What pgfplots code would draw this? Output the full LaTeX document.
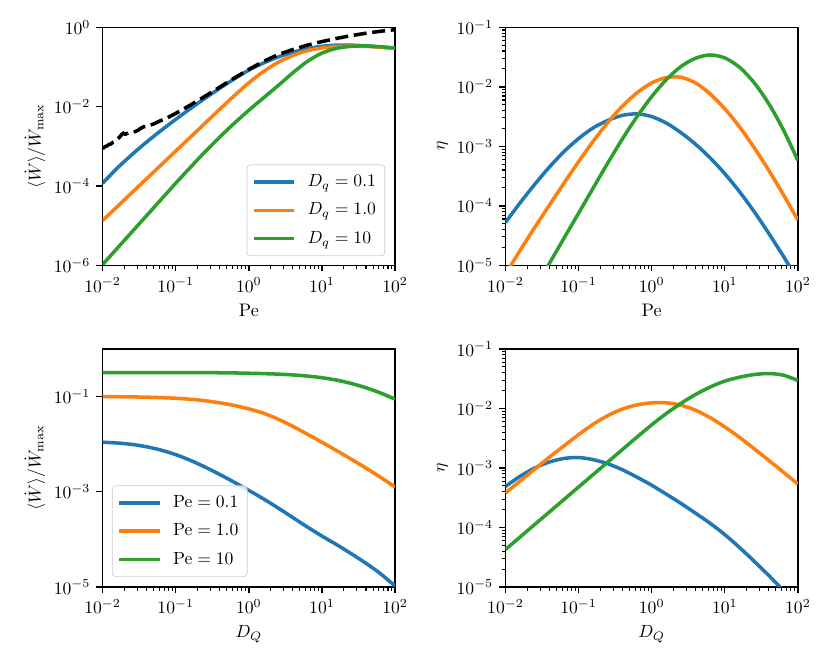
\documentclass[border=0pt]{standalone}
\usepackage{pgfplots}
\usepackage{pgfplotstable}
\pgfplotsset{compat=1.18}
\definecolor{tabblue}{HTML}{1F77B4}
\definecolor{taborange}{HTML}{FF7F0E}
\definecolor{tabgreen}{HTML}{2CA02C}

% top-left: <W>/Wmax vs Pe for Dq = 0.1, 1.0, 10
\pgfplotstableread{
x b o g
0.01 1.175e-4 1.349e-5 1.047e-6
0.01585 2.818e-4 3.020e-5 2.692e-6
0.02512 6.166e-4 6.761e-5 6.918e-6
0.03981 1.274e-3 1.514e-4 1.778e-5
0.0631 2.512e-3 3.388e-4 4.571e-5
0.1 4.786e-3 7.586e-4 1.175e-4
0.1585 8.913e-3 1.698e-3 2.951e-4
0.2512 1.622e-2 3.802e-3 7.244e-4
0.3981 2.884e-2 8.511e-3 1.698e-3
0.631 5.012e-2 1.884e-2 3.802e-3
1 8.318e-2 3.981e-2 8.128e-3
1.585 0.1259 7.674e-2 1.660e-2
2.512 0.1778 0.1303 3.388e-2
3.981 0.2344 0.1950 7.079e-2
6.31 0.2884 0.2570 0.1380
10 0.3311 0.3020 0.2239
15.85 0.3548 0.3273 0.2951
25.12 0.3548 0.3350 0.3311
39.81 0.3388 0.3311 0.3388
63.1 0.3162 0.3162 0.3236
100 0.2951 0.2951 0.3020
}\tabTL

% top-right: eta vs Pe
\pgfplotstableread{
x b o g
0.01 5.248e-5 7.079e-6 5.888e-7
0.01585 1.122e-4 1.778e-5 1.549e-6
0.02512 2.291e-4 4.315e-5 4.074e-6
0.03981 4.467e-4 1.023e-4 1.072e-5
0.0631 8.128e-4 2.399e-4 2.851e-5
0.1 1.349e-3 5.495e-4 7.499e-5
0.1585 2.042e-3 1.216e-3 1.995e-4
0.2512 2.723e-3 2.512e-3 5.248e-4
0.3981 3.311e-3 4.732e-3 1.334e-3
0.631 3.508e-3 7.943e-3 3.162e-3
1 3.162e-3 1.161e-2 6.839e-3
1.585 2.455e-3 1.429e-2 1.318e-2
2.512 1.698e-3 1.445e-2 2.188e-2
3.981 1.084e-3 1.161e-2 3.020e-2
6.31 6.383e-4 7.586e-3 3.428e-2
10 3.467e-4 4.266e-3 3.055e-2
15.85 1.738e-4 2.138e-3 2.138e-2
25.12 8.035e-5 9.550e-4 1.175e-2
39.81 3.467e-5 3.981e-4 5.248e-3
63.1 1.429e-5 1.549e-4 1.905e-3
100 5.689e-6 5.754e-5 5.754e-4
}\tabTR

% bottom-left: <W>/Wmax vs D_Q for Pe = 0.1, 1.0, 10
\pgfplotstableread{
x b o g
0.01 1.096e-2 0.1 0.3192
0.01585 1.059e-2 0.09931 0.3192
0.02512 9.886e-3 0.09840 0.3192
0.03981 8.810e-3 0.09705 0.3192
0.0631 7.499e-3 0.09506 0.3192
0.1 6.026e-3 0.09204 0.3192
0.1585 4.571e-3 0.08770 0.3192
0.2512 3.311e-3 0.08166 0.3184
0.3981 2.317e-3 0.07396 0.3162
0.631 1.585e-3 0.06501 0.3133
1 1.072e-3 0.05508 0.3090
1.585 7.079e-4 0.04467 0.3034
2.512 4.571e-4 0.03350 0.2958
3.981 2.884e-4 0.02371 0.2851
6.31 1.820e-4 0.01622 0.2698
10 1.175e-4 0.01096 0.2489
15.85 7.762e-5 7.328e-3 0.2218
25.12 5.012e-5 4.842e-3 0.1888
39.81 3.162e-5 3.162e-3 0.1535
63.1 1.905e-5 2.018e-3 0.1191
100 1.047e-5 1.259e-3 0.08831
}\tabBL

% bottom-right: eta vs D_Q
\pgfplotstableread{
x b o g
0.01 4.898e-4 3.802e-4 4.266e-5
0.01585 7.244e-4 6.026e-4 6.918e-5
0.02512 1.0e-3 9.550e-4 1.122e-4
0.03981 1.259e-3 1.514e-3 1.820e-4
0.0631 1.445e-3 2.344e-3 2.951e-4
0.1 1.496e-3 3.631e-3 4.786e-4
0.1585 1.380e-3 5.433e-3 7.762e-4
0.2512 1.175e-3 7.586e-3 1.259e-3
0.3981 9.333e-4 9.772e-3 2.042e-3
0.631 6.998e-4 1.148e-2 3.311e-3
1 5.129e-4 1.245e-2 5.309e-3
1.585 3.631e-4 1.245e-2 8.222e-3
2.512 2.541e-4 1.135e-2 1.216e-2
3.981 1.738e-4 9.333e-3 1.718e-2
6.31 1.175e-4 6.998e-3 2.291e-2
10 7.586e-5 4.898e-3 2.884e-2
15.85 4.624e-5 3.273e-3 3.350e-2
25.12 2.723e-5 2.113e-3 3.715e-2
39.81 1.567e-5 1.349e-3 3.864e-2
63.1 8.810e-6 8.511e-4 3.631e-2
100 4.898e-6 5.370e-4 2.951e-2
}\tabBR

\pgfplotsset{
  every axis/.append style={
    scale only axis, width=166.1pt, height=135.2pt,
    xmode=log, ymode=log, xmin=0.01, xmax=100,
    font=\fontsize{10.3}{12}\selectfont,
    tick align=outside, tick pos=left,
    major tick length=3.5pt, minor tick length=2pt,
    every tick/.style={black, line width=0.8pt},
    minor tick style={line width=0.6pt},
    axis line style={line width=0.8pt},
    ylabel shift=-2pt,
    xtick={0.01,0.1,1,10,100},
    minor xtick={0.02,0.03,0.04,0.05,0.06,0.07,0.08,0.09,
                 0.2,0.3,0.4,0.5,0.6,0.7,0.8,0.9,
                 2,3,4,5,6,7,8,9,20,30,40,50,60,70,80,90},
    legend cell align=left,
    legend style={draw=black!20, rounded corners=2pt, fill=white,
      fill opacity=0.8, text opacity=1,
      font=\fontsize{10.3}{12}\selectfont,
      inner xsep=3pt, inner ysep=3.5pt, row sep=3.8pt,
      /tikz/every odd column/.append style={column sep=4.5pt}},
    legend image code/.code={\draw[#1] (0pt,0pt) -- (23pt,0pt);},
  },
  curve/.style={line width=2pt, smooth, tension=0.5},
  etaticks/.style={ymin=1e-5, ymax=1e-1, ytick={1e-5,1e-4,1e-3,1e-2,1e-1},
    minor ytick={2e-5,3e-5,4e-5,5e-5,6e-5,7e-5,8e-5,9e-5,
                 2e-4,3e-4,4e-4,5e-4,6e-4,7e-4,8e-4,9e-4,
                 2e-3,3e-3,4e-3,5e-3,6e-3,7e-3,8e-3,9e-3,
                 0.02,0.03,0.04,0.05,0.06,0.07,0.08,0.09}},
}

\begin{document}
\begin{tikzpicture}
\useasboundingbox (0,0) rectangle (472pt,-377.7pt);

% ---------- top left ----------
\begin{axis}[at={(58.3pt,-15.5pt)}, anchor=north west,
  ymin=1e-6, ymax=1, ytick={1e-6,1e-4,1e-2,1}, minor ytick={},
  xlabel={Pe}, ylabel={$\langle \dot{W} \rangle / \dot{W}_{\mathrm{max}}$},
  legend style={at={(0.966,0.039)}, anchor=south east}]
\addplot[curve, tabblue] table[x=x,y=b] {\tabTL};
\addlegendentry{$D_q = 0.1$}
\addplot[curve, taborange] table[x=x,y=o] {\tabTL};
\addlegendentry{$D_q = 1.0$}
\addplot[curve, tabgreen] table[x=x,y=g] {\tabTL};
\addlegendentry{$D_q = 10$}
\addplot[black, line width=2pt, dash pattern=on 7.4pt off 3.2pt, forget plot] coordinates {
(0.01,8.710e-4) (0.01072,9.772e-4) (0.01148,1.023e-3) (0.01230,1.122e-3)
(0.01300,1.148e-3) (0.01380,1.259e-3) (0.01472,1.318e-3) (0.01585,1.514e-3)
(0.01726,1.738e-3) (0.01820,1.995e-3) (0.01914,2.138e-3) (0.01995,2.042e-3)
(0.02084,2.042e-3) (0.02239,2.188e-3) (0.02360,2.188e-3) (0.02570,2.291e-3)
(0.02767,2.344e-3) (0.03020,2.512e-3) (0.03236,2.754e-3) (0.03597,3.090e-3)
(0.03890,3.162e-3) (0.04169,3.236e-3) (0.04920,3.631e-3) (0.06081,4.365e-3)
(0.07516,5.129e-3) (0.1,6.761e-3) (0.1585,1.096e-2) (0.2512,1.820e-2)
(0.3981,3.090e-2) (0.631,5.248e-2) (1,8.710e-2) (1.585,0.1380)
(2.512,0.2042) (3.981,0.2754) (6.31,0.3548) (10,0.4365) (15.85,0.5248)
(25.12,0.6166) (39.81,0.7079) (63.1,0.7943) (100,0.8710)
};
\end{axis}

% ---------- top right ----------
\begin{axis}[at={(287.1pt,-15.5pt)}, anchor=north west, etaticks,
  xlabel={Pe}, ylabel={$\eta$}]
\addplot[curve, tabblue] table[x=x,y=b] {\tabTR};
\addplot[curve, taborange] table[x=x,y=o] {\tabTR};
\addplot[curve, tabgreen] table[x=x,y=g] {\tabTR};
\end{axis}

% ---------- bottom left ----------
\begin{axis}[at={(58.3pt,-198.2pt)}, anchor=north west,
  ymin=1e-5, ymax=1, ytick={1e-5,1e-3,1e-1}, minor ytick={},
  xlabel={$D_Q$}, ylabel={$\langle \dot{W} \rangle / \dot{W}_{\mathrm{max}}$},
  legend style={at={(0.032,0.042)}, anchor=south west}]
\addplot[curve, tabblue] table[x=x,y=b] {\tabBL};
\addlegendentry{$\mathrm{Pe} = 0.1$}
\addplot[curve, taborange] table[x=x,y=o] {\tabBL};
\addlegendentry{$\mathrm{Pe} = 1.0$}
\addplot[curve, tabgreen] table[x=x,y=g] {\tabBL};
\addlegendentry{$\mathrm{Pe} = 10$}
\end{axis}

% ---------- bottom right ----------
\begin{axis}[at={(287.1pt,-198.2pt)}, anchor=north west, etaticks,
  xlabel={$D_Q$}, ylabel={$\eta$}]
\addplot[curve, tabblue] table[x=x,y=b] {\tabBR};
\addplot[curve, taborange] table[x=x,y=o] {\tabBR};
\addplot[curve, tabgreen] table[x=x,y=g] {\tabBR};
\end{axis}
\end{tikzpicture}
\end{document}
